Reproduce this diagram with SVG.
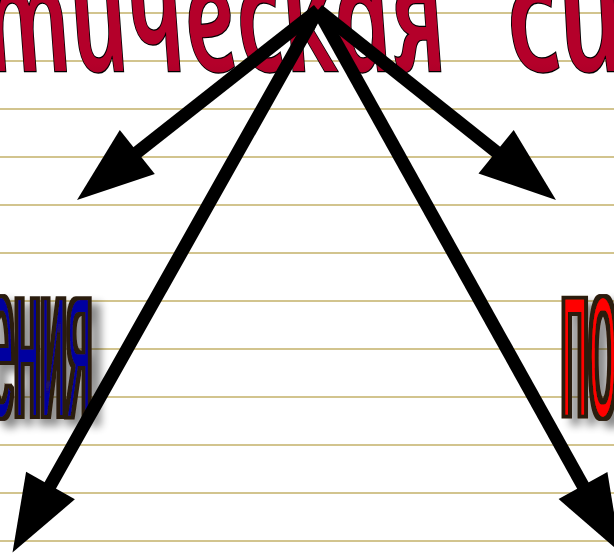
<svg xmlns="http://www.w3.org/2000/svg" width="614" height="554" viewBox="0 0 614 554">
  <style>
    .rule { stroke: #d2c48e; stroke-width: 2; }
    .shaft { stroke: #000; stroke-width: 13; stroke-linecap: butt; fill: none; }
    .head { fill: #000; }
    .title { font-family: "Open Sans", "Noto Sans", sans-serif; font-style: italic; font-weight: 600; font-size: 150px; fill: url(#tg); stroke: #000; stroke-width: 2.4; paint-order: stroke; }
    .side { font-family: "Liberation Sans", Arial, sans-serif; font-size: 220px; }
  </style>
  <defs>
    <linearGradient id="tg" x1="0" y1="-8" x2="0" y2="72" gradientUnits="userSpaceOnUse">
      <stop offset="0" stop-color="#b4002a"/>
      <stop offset="0.55" stop-color="#9a0022"/>
      <stop offset="1" stop-color="#5c0012"/>
    </linearGradient>
    <filter id="ol" x="-30%" y="-20%" width="180%" height="150%">
      <feMorphology in="SourceAlpha" operator="dilate" radius="3.4" result="d"/>
      <feFlood flood-color="#2a1a0a"/>
      <feComposite in2="d" operator="in" result="outline"/>
      <feGaussianBlur in="d" stdDeviation="4"/>
      <feOffset dx="9" dy="7"/>
      <feComponentTransfer result="shadow"><feFuncA type="linear" slope="0.45"/></feComponentTransfer>
      <feMorphology in="SourceGraphic" operator="erode" radius="0.8" result="inner"/>
      <feMerge><feMergeNode in="shadow"/><feMergeNode in="outline"/><feMergeNode in="inner"/></feMerge>
    </filter>
  </defs>
  <rect width="614" height="554" fill="#fff"/>
  <g id="rules">
    <line class="rule" x1="0" y1="13" x2="614" y2="13"/>
    <line class="rule" x1="0" y1="61" x2="614" y2="61"/>
    <line class="rule" x1="0" y1="109" x2="614" y2="109"/>
    <line class="rule" x1="0" y1="157" x2="614" y2="157"/>
    <line class="rule" x1="0" y1="205" x2="614" y2="205"/>
    <line class="rule" x1="0" y1="253" x2="614" y2="253"/>
    <line class="rule" x1="0" y1="301" x2="614" y2="301"/>
    <line class="rule" x1="0" y1="349" x2="614" y2="349"/>
    <line class="rule" x1="0" y1="397" x2="614" y2="397"/>
    <line class="rule" x1="0" y1="445" x2="614" y2="445"/>
    <line class="rule" x1="0" y1="493" x2="614" y2="493"/>
    <line class="rule" x1="0" y1="541" x2="614" y2="541"/>
  </g>
  <g id="title" transform="translate(0,71) skewX(12)">
    <text class="title" x="-8" y="0" textLength="462" lengthAdjust="spacingAndGlyphs">тическая</text>
    <text class="title" x="515" y="0" textLength="118" lengthAdjust="spacingAndGlyphs">си</text>
  </g>
  <g id="left-label" filter="url(#ol)">
    <text class="side" x="-12" y="416" fill="#0000a0" textLength="104" lengthAdjust="spacingAndGlyphs">ения</text>
  </g>
  <g id="right-label" filter="url(#ol)">
    <text class="side" x="561" y="416" fill="#ff0000" textLength="56" lengthAdjust="spacingAndGlyphs">по</text>
  </g>
  <g id="connectors">
    <line class="shaft" x1="318" y1="10" x2="130" y2="158"/>
    <polygon class="head" points="77,200 119.8,130.1 154.8,173.9"/>
    <line class="shaft" x1="318" y1="10" x2="504" y2="158"/>
    <polygon class="head" points="556,200 513.7,129.9 478.5,173.5"/>
    <line class="shaft" x1="318" y1="10" x2="46" y2="493"/>
    <polygon class="head" points="12.5,552.5 26.1,471.7 74.9,499.3"/>
    <line class="shaft" x1="318" y1="10" x2="587" y2="493"/>
    <polygon class="head" points="620.5,552.7 607.4,471.9 558.6,499.1"/>
  </g>
</svg>
